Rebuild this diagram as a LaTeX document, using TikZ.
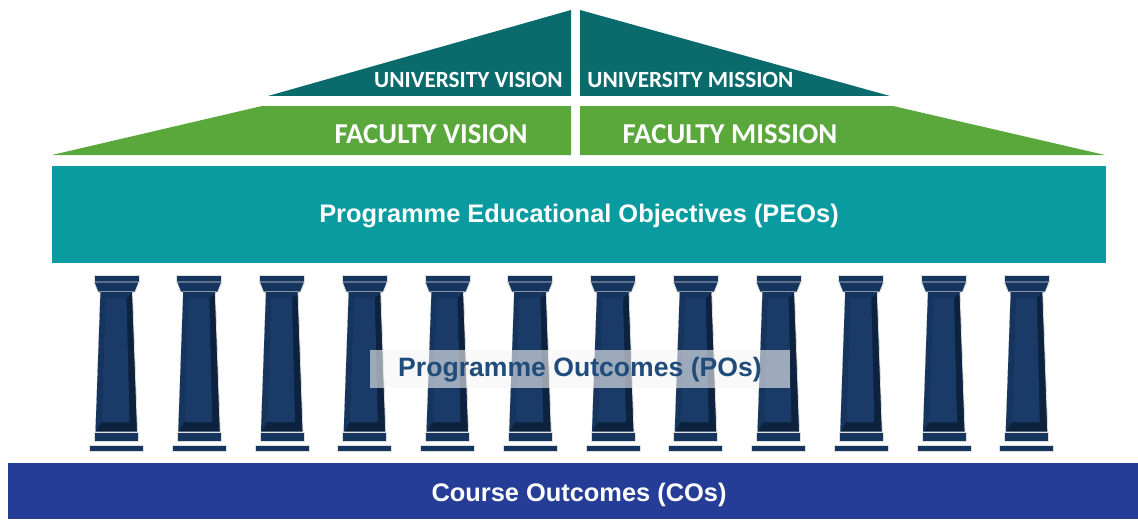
\documentclass[tikz,border=0pt]{standalone}
\usepackage{fontspec}
\setmainfont{Liberation Sans}
\newfontfamily\roofFont{Carlito}
\definecolor{roofteal}{HTML}{0B6A6C}
\definecolor{facgreen}{HTML}{5AA73C}
\definecolor{peoteal}{HTML}{0A9BA0}
\definecolor{coblue}{HTML}{253D96}
\definecolor{colnavy}{HTML}{15345E}
\definecolor{coldark}{HTML}{0D223E}
\definecolor{colpanel}{HTML}{1A3B68}
\definecolor{potext}{HTML}{1F4C7A}
\tikzset{
  roof/.style={fill=roofteal,draw=none},
  band/.style={fill=facgreen,draw=none},
  slab/.style={fill=colnavy,draw=white!75!gray,line width=0.4pt},
  whitelabel/.style={text=white,inner sep=0pt},
}
\begin{document}
\begin{tikzpicture}[x=0.5pt,y=-0.5pt]
  \useasboundingbox (0,0) rectangle (1138,519);
  % university roof
  \fill[roof] (268,96) -- (571,10) -- (571,96) -- cycle;
  \fill[roof] (580,10) -- (890,96) -- (580,96) -- cycle;
  \node[whitelabel,font=\roofFont\bfseries\fontsize{11.6}{14}\selectfont,anchor=east] (univision) at (563,80) {UNIVERSITY VISION};
  \node[whitelabel,font=\roofFont\bfseries\fontsize{11.6}{14}\selectfont,anchor=west] (unimission) at (587,80) {UNIVERSITY MISSION};
  % faculty band
  \fill[band] (52,155) -- (262,106) -- (571,106) -- (571,155) -- cycle;
  \fill[band] (580,106) -- (893,106) -- (1105,155) -- (580,155) -- cycle;
  \node[whitelabel,font=\roofFont\bfseries\fontsize{14.4}{17}\selectfont] (facvision) at (431,134) {FACULTY VISION};
  \node[whitelabel,font=\roofFont\bfseries\fontsize{14.4}{17}\selectfont] (facmission) at (730,134) {FACULTY MISSION};
  % programme educational objectives
  \fill[peoteal] (52,166) rectangle (1106,263);
  \node[whitelabel,font=\bfseries\fontsize{12.7}{15}\selectfont] (peo) at (579,216) {Programme Educational Objectives (PEOs)};
  % columns
  \foreach \i in {0,...,11} {
    \begin{scope}[xshift=(116.5+82.75*\i)*0.5pt]
      \draw[slab] (-22.5,275) rectangle (22.5,282);
      \draw[slab] (-22.5,282) -- (22.5,282) -- (18.5,292) -- (-18.5,292) -- cycle;
      \draw[fill=coldark,draw=white!75!gray,line width=0.4pt] (-16,292) -- (16,292) -- (21,432) -- (-21,432) -- cycle;
      \fill[colnavy] (-16,292) -- (16,292) -- (10,298) -- (-11,298) -- (-15,422) -- (-21,432) -- cycle;
      \fill[colpanel] (-11,298) -- (10,298) -- (13,422) -- (-15,422) -- cycle;
      \draw[slab] (-22,432) rectangle (22,441);
      \draw[slab] (-27,445) rectangle (27,451);
    \end{scope}
  }
  % programme outcomes label
  \fill[gray!8,opacity=0.6] (370,350) rectangle (790,388);
  \node[text=potext,inner sep=0pt,font=\bfseries\fontsize{13.3}{15}\selectfont] (po) at (580,370) {Programme Outcomes (POs)};
  % course outcomes
  \fill[coblue] (8,463) rectangle (1138,519);
  \node[whitelabel,font=\bfseries\fontsize{12.7}{15}\selectfont] (co) at (579,495) {Course Outcomes (COs)};
\end{tikzpicture}
\end{document}
